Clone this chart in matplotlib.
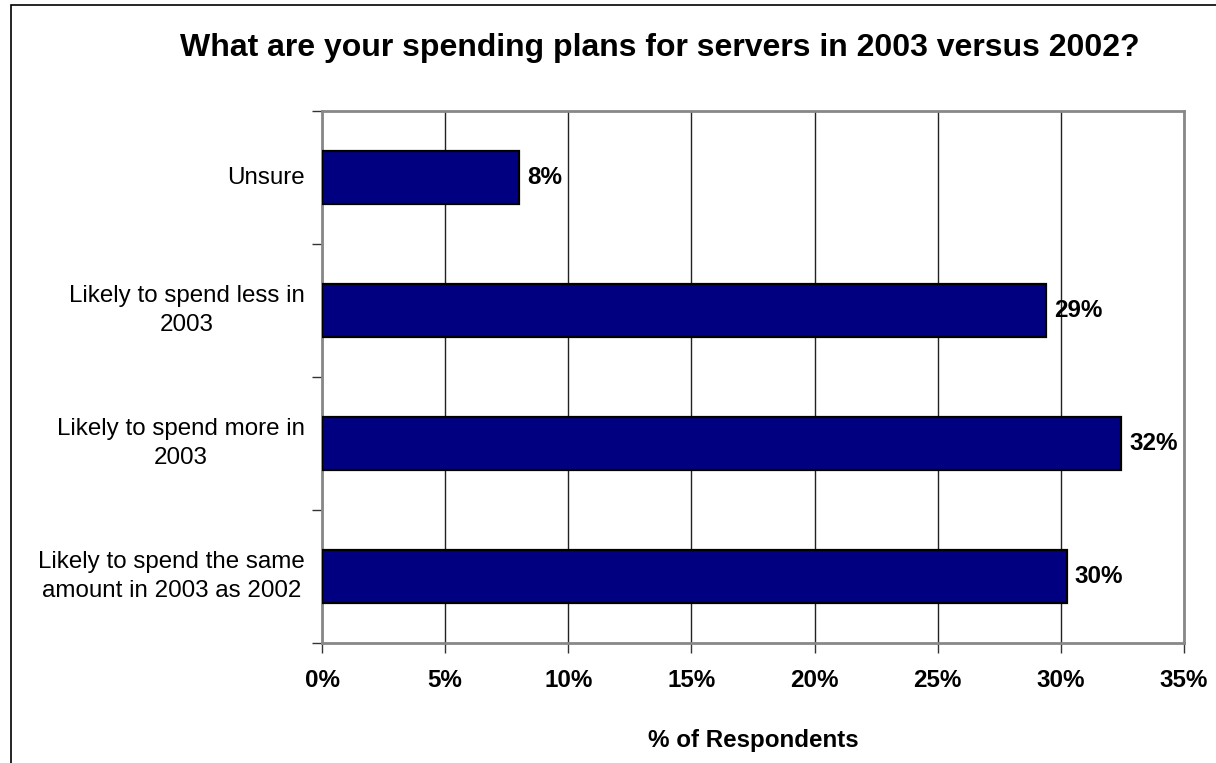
import matplotlib
matplotlib.use("Agg")
import matplotlib.pyplot as plt
from matplotlib.patches import Rectangle
from matplotlib.ticker import FuncFormatter, MultipleLocator

plt.rcParams['font.family'] = ['Liberation Sans', 'DejaVu Sans']

# Survey responses, bottom to top
categories = [
    "Likely to spend the same\namount in 2003 as 2002",
    "Likely to spend more in\n2003",
    "Likely to spend less in\n2003",
    "Unsure",
]
shares = [30.25, 32.45, 29.4, 8.0]

title = "What are your spending plans for servers in 2003 versus 2002?"
xlabel = "% of Respondents"

W, H = 1216, 763
FS = 17.4
fig = plt.figure(figsize=(W / 100, H / 100), dpi=100)

# Chart border (extends past the right and bottom edges)
fig.patches.append(Rectangle((11 / W, -0.1), 2.0, 1 - 5 / H + 0.1,
                             transform=fig.transFigure, fill=False,
                             edgecolor='black', linewidth=1.2))

left, right, top, bottom = 322, 1184, 111, 643
ax = fig.add_axes([left / W, 1 - bottom / H, (right - left) / W, (bottom - top) / H])

ypos = list(range(len(categories)))
ax.barh(ypos, shares, height=0.4, color='#000080', edgecolor='black',
        linewidth=1.6, zorder=3)

for y, v in zip(ypos, shares):
    ax.text(v + 0.32, y, f"{round(v):d}%", va='center', ha='left',
            fontsize=FS, fontweight='bold', zorder=4)

ax.set_xlim(0, 35)
ax.set_ylim(-0.5, len(categories) - 0.5)
ax.xaxis.set_major_locator(MultipleLocator(5))
ax.xaxis.set_major_formatter(FuncFormatter(lambda x, _: f"{x:.0f}%"))
ax.grid(axis='x', color='#222222', linewidth=1.0, zorder=1)

# Category boundaries as tick marks, labels centred on bars
ax.set_yticks([i - 0.5 for i in range(len(categories) + 1)])
ax.set_yticklabels([])
ax.tick_params(axis='y', direction='out', length=7, width=1.0, color='#333333')
ax.tick_params(axis='x', direction='out', length=7, width=1.0, color='#333333',
               pad=12, labelsize=FS)
for lab in ax.get_xticklabels():
    lab.set_fontweight('bold')

label_x = -17 / (right - left)
for y, name in zip(ypos, categories):
    ax.text(label_x, y, name, transform=ax.get_yaxis_transform(),
            ha='right', va='center', multialignment='center', fontsize=FS,
            linespacing=1.45)

for s in ax.spines.values():
    s.set_color('#888888')
    s.set_linewidth(2.0)

ax.set_xlabel(xlabel, fontsize=FS, fontweight='bold', labelpad=26)
fig.text(660 / W, 1 - 48 / H, title, ha='center', va='center',
         fontsize=23, fontweight='bold')

fig.savefig("out.png", dpi=100)
